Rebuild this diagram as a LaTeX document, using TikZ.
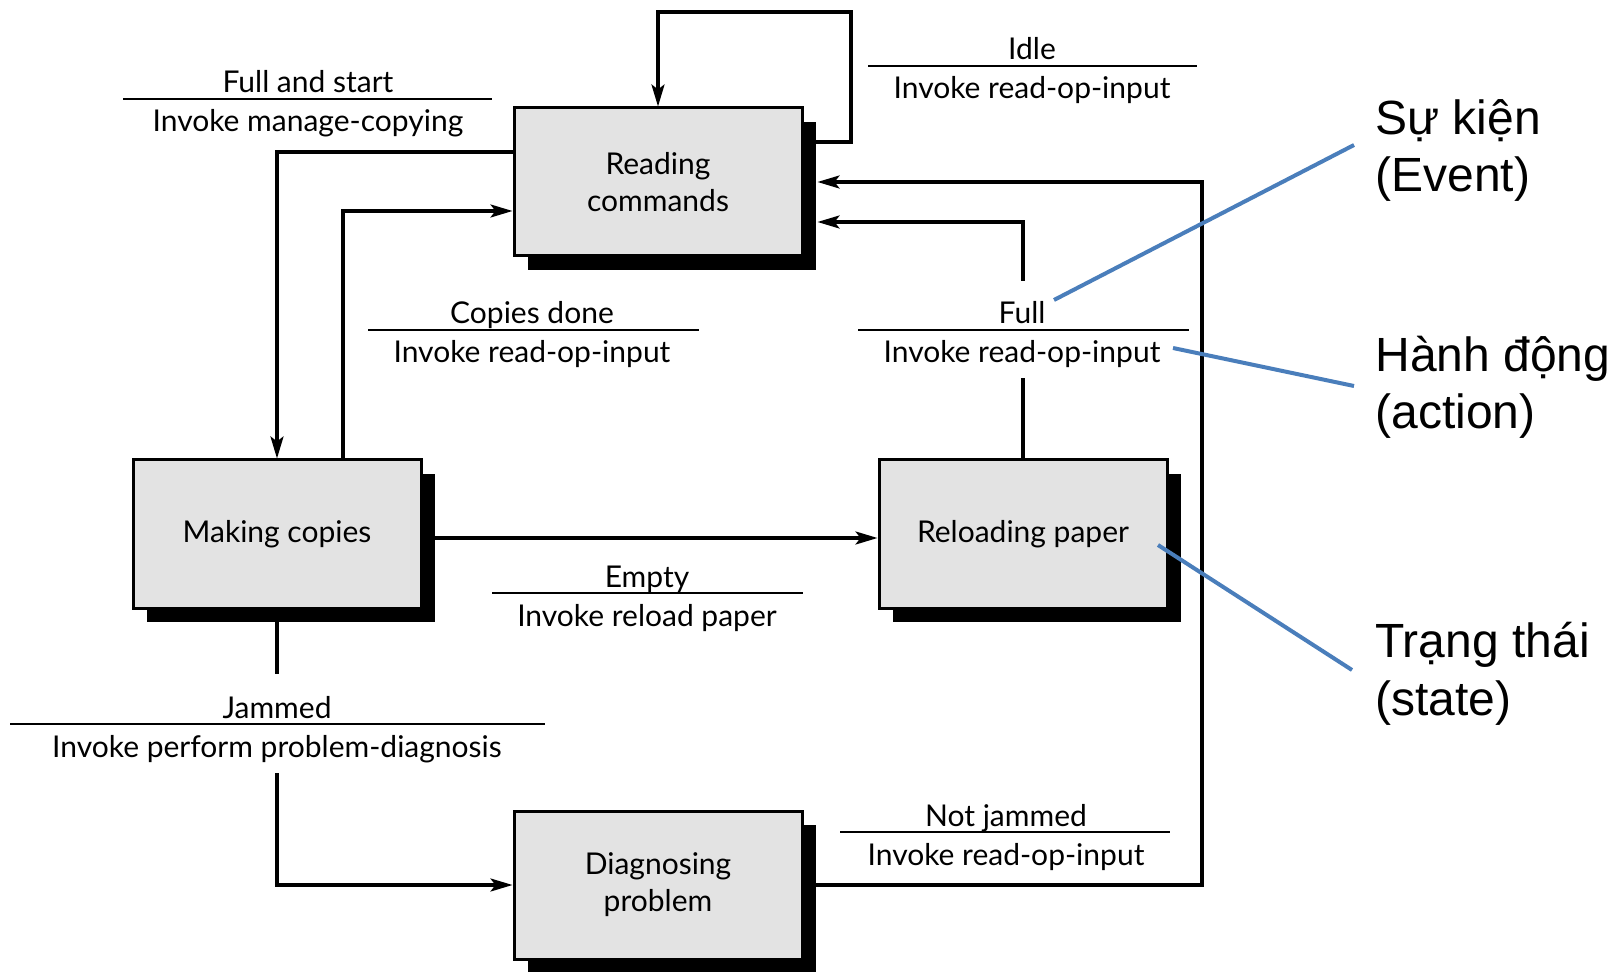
\documentclass[tikz,border=0pt]{standalone}
\usepackage{fontspec}
\setmainfont{Lato}
\newfontfamily\notefont{Liberation Sans}
\usetikzlibrary{arrows.meta,shadows,calc}
\definecolor{boxgray}{RGB}{227,227,227}
\definecolor{noteblue}{RGB}{74,126,187}
\newcommand\labfont{\fontsize{15}{18.5}\selectfont}
\begin{document}
\begin{tikzpicture}[x=0.5pt,y=-0.5pt,
  state/.style={draw=black, line width=1.5pt, fill=boxgray,
    minimum width=144pt, minimum height=74pt, inner sep=0pt,
    align=center, font=\labfont,
    drop shadow={shadow xshift=7pt, shadow yshift=-7pt, fill=black, opacity=1}},
  flow/.style={line width=1.6pt},
  arr/.style={flow, -{Stealth[length=11pt,width=6.5pt,inset=2.5pt]}},
  ev/.style={anchor=base, font=\labfont, inner sep=0pt},
  rule/.style={line width=0.7pt},
  note/.style={anchor=base west, font=\notefont\fontsize{24}{28.75}\selectfont,
    align=left, inner sep=0pt},
  pointer/.style={draw=noteblue, line width=2pt}
]
\useasboundingbox (0,0) rectangle (1621,972);

% states
\node[state] (R) at (658,182) {Reading\\commands};
\node[state] (M) at (277,534) {Making copies};
\node[state] (P) at (1023,534) {Reloading paper};
\node[state] (D) at (658,885) {Diagnosing\\problem};

% transitions
\draw[arr] (R.east |- 0,142) -| (851,12) -| (R.north);
\draw[arr] (R.west |- 0,152) -| (M.north);
\draw[arr] (343,0 |- M.north) |- (R.west |- 0,211);
\draw[arr] (M.east |- 0,538) -- (P.west |- 0,538);

\coordinate (full-lo) at (P.north |- 0,378);
\coordinate (full-hi) at (P.north |- 0,281);
\draw[flow] (P.north) -- (full-lo);
\draw[arr] (full-hi) |- ([xshift=7pt,yshift=-20pt]R.east);

\draw[arr] (D.east) -| (1202,0 |- R.east) -- ([xshift=7pt]R.east);

\coordinate (jam-hi) at (M.south |- 0,674);
\coordinate (jam-lo) at (M.south |- 0,773);
\draw[flow] (M.south) -- (jam-hi);
\draw[arr] (jam-lo) |- (D.west);

% event / action labels
\foreach \nm/\cx/\ly/\xa/\xb/\evt/\act in {
  fs/308/99/123/492/Full and start/Invoke manage-copying,
  idle/1032/66/868/1197/Idle/Invoke read-op-input,
  cd/532/330/368/699/Copies done/Invoke read-op-input,
  full/1022/330/858/1189/Full/Invoke read-op-input,
  empty/647/593/492/803/Empty/Invoke reload paper,
  jam/277/724/10/545/Jammed/Invoke perform problem-diagnosis,
  nj/1006/832/840/1170/Not jammed/Invoke read-op-input}
{
  \node[ev] (\nm-ev) at (\cx,\ly-6) {\evt};
  \draw[rule] (\xa,\ly) -- (\xb,\ly);
  \node[ev] (\nm-act) at (\cx,\ly+33) {\act};
}

% legend (base anchor sits on the last line)
\node[note] (n-event) at (1375,192) {Sự kiện\\(Event)};
\node[note] (n-action) at (1375,429) {Hành động\\(action)};
\node[note] (n-state) at (1375,715) {Trạng thái\\(state)};

\coordinate (p-event) at (1054,300);
\coordinate (p-action) at (1173,348);
\coordinate (p-state) at (1158,545);
\draw[pointer] (p-event) -- (1354,145);
\draw[pointer] (p-action) -- (1354,386);
\draw[pointer] (p-state) -- (1352,670);
\end{tikzpicture}
\end{document}
